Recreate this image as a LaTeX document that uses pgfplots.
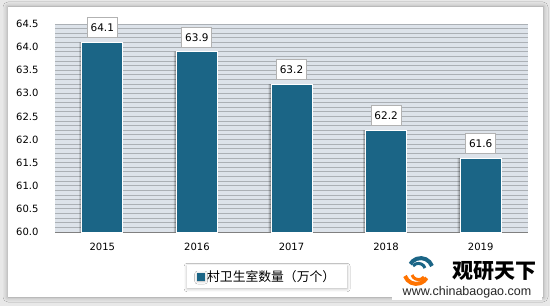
\documentclass[border=0pt]{standalone}
\usepackage{pgfplots}
\pgfplotsset{compat=1.18}
\usepackage{fontspec}
\setmainfont{DejaVu Sans}
\newfontfamily\cjk{Noto Sans CJK SC}
\newfontfamily\web{Liberation Sans}
\usetikzlibrary{shadows.blur}
\definecolor{barblue}{HTML}{1B6586}
\definecolor{bgblue}{HTML}{DDE3EA}
\definecolor{gridgray}{HTML}{ABB0B5}
\begin{document}
\begin{tikzpicture}[x=1pt,y=1pt]
\fill[black!9] (0,0) rectangle (550,306);
\fill[white, blur shadow={shadow xshift=0pt, shadow yshift=0pt, shadow blur radius=5pt, shadow opacity=35}] (8,9) rectangle (543,299);
% watermark background
\fill[white] (392,6) rectangle (542,50);
\begin{axis}[
  at={(55pt,74pt)}, anchor=south west,
  scale only axis, width=473pt, height=208pt,
  xmin=-0.5, xmax=4.5, ymin=60, ymax=64.5,
  xtick=data, xticklabels={2015,2016,2017,2018,2019},
  ytick={60,60.5,...,64.5},
  minor y tick num=4,
  ymajorgrids, yminorgrids,
  major grid style={draw=gridgray, line width=0.9pt},
  minor grid style={draw=gridgray, line width=0.9pt},
  axis background/.style={fill=bgblue},
  axis x line*=bottom, axis y line*=left,
  y axis line style={draw=none},
  x axis line style={draw=black!50, line width=1pt},
  major tick length=0pt, minor tick length=0pt,
  tick style={draw=none},
  /pgf/number format/assume math mode=true,
  yticklabel style={/pgf/number format/fixed, /pgf/number format/fixed zerofill, /pgf/number format/precision=1, xshift=-13pt},
  ticklabel style={font=\fontsize{10}{12}\selectfont, text=black},
  xticklabel style={yshift=-8pt},
  legend style={at={(axis description cs:0.279,-0.269)}, anchor=south west,
    draw=none, fill=white,
    blur shadow={shadow xshift=0pt, shadow yshift=-1pt, shadow blur radius=3pt, shadow opacity=30},
    font=\cjk\fontsize{12.8}{14}\selectfont, inner xsep=10pt, inner ysep=3pt},
  legend image code/.code={\fill[barblue] (0pt,-3.5pt) rectangle (7pt,3.5pt);},
]
\addplot[ybar, bar width=41pt, bar shift=-2.5pt, fill=black, fill opacity=0.18, draw=none, forget plot]
  coordinates {(0,64.1) (1,63.9) (2,63.2) (3,62.2) (4,61.6)};
\addplot[ybar, bar width=41pt, bar shift=-1.2pt, fill=black, fill opacity=0.15, draw=none, forget plot]
  coordinates {(0,64.1) (1,63.9) (2,63.2) (3,62.2) (4,61.6)};
\addplot[ybar, bar width=41pt, bar shift=0pt, fill=barblue, draw=white, line width=1pt,
  nodes near coords,
  every node near coord/.append style={anchor=south, yshift=4pt, fill=white, draw=black!30,
    minimum width=30pt, minimum height=20pt, inner sep=2pt, text=black,
    font=\fontsize{10.5}{12}\selectfont,
    /pgf/number format/fixed, /pgf/number format/fixed zerofill, /pgf/number format/precision=1},
] coordinates {(0,64.1) (1,63.9) (2,63.2) (3,62.2) (4,61.6)};
\addlegendentry{村卫生室数量（万个）}
\end{axis}
% watermark
\draw[orange!90!red, line width=4pt] (405,30) arc[start angle=200, end angle=330, radius=12pt];
\draw[orange!90!red, line width=3pt] (412,31) arc[start angle=200, end angle=320, radius=7pt];
\draw[barblue, line width=4pt] (432,40) arc[start angle=20, end angle=150, radius=12pt];
\draw[barblue, line width=3pt] (425,38) arc[start angle=20, end angle=140, radius=7pt];
\node[font=\cjk\bfseries\fontsize{21}{23}\selectfont, text=black] at (494,35) {观研天下};
\node[font=\web\fontsize{12.5}{14}\selectfont, text=black!85] at (467,14) {www.chinabaogao.com};
\end{tikzpicture}
\end{document}
